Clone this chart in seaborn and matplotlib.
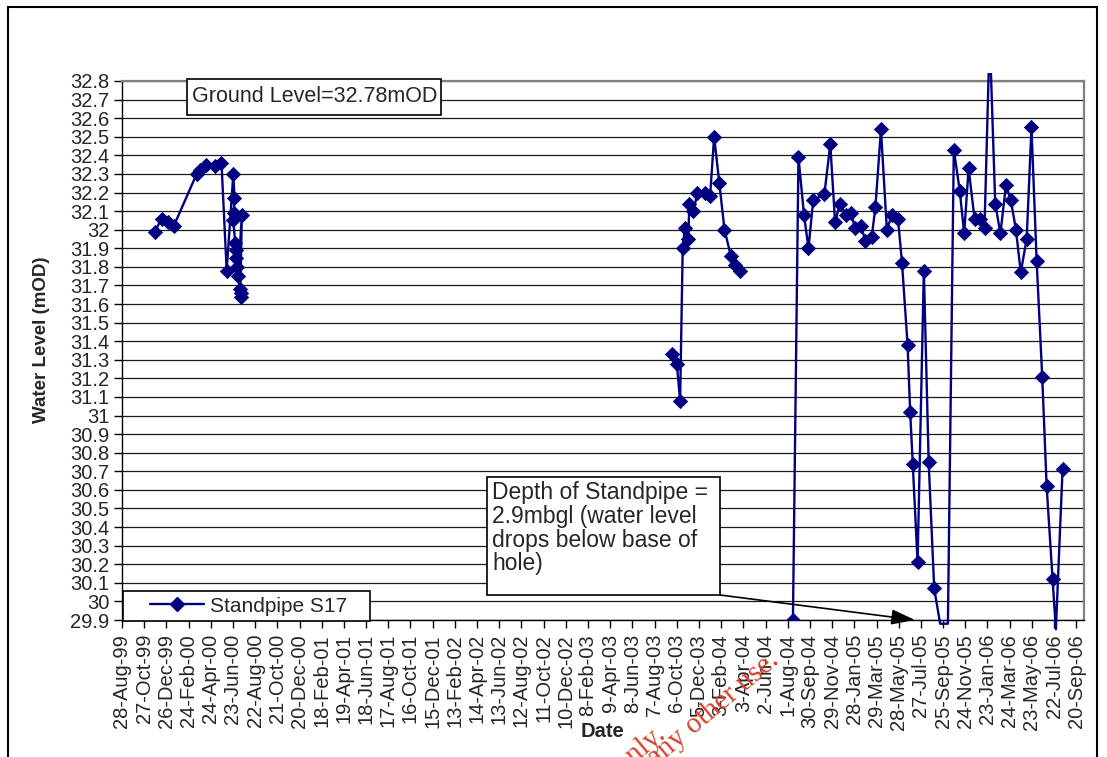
import matplotlib
matplotlib.use("Agg")
import matplotlib.pyplot as plt
from matplotlib.patches import Rectangle
from matplotlib.lines import Line2D
from matplotlib.ticker import FuncFormatter
import numpy as np
import pandas as pd
import seaborn as sns

# Standpipe S17 water levels (mOD), one list pair per monitoring campaign
campaign1_dates = [
    "1999-11-25", "1999-12-13", "1999-12-31", "2000-01-15", "2000-03-17",
    "2000-03-26", "2000-04-11", "2000-05-05", "2000-05-23", "2000-06-06",
    "2000-06-24", "2000-06-27", "2000-06-25", "2000-06-24", "2000-06-29",
    "2000-06-30", "2000-07-01", "2000-07-03", "2000-07-07", "2000-07-17",
    "2000-07-13", "2000-07-14", "2000-07-15",
]
campaign1_levels = [
    31.99, 32.06, 32.04, 32.02, 32.30,
    32.32, 32.35, 32.34, 32.36, 31.78,
    32.30, 32.17, 32.09, 32.05, 31.93,
    31.89, 31.85, 31.80, 31.75, 32.08,
    31.68, 31.66, 31.64,
]

campaign2_dates = [
    "2003-09-24", "2003-10-06", "2003-10-15", "2003-10-22", "2003-10-28",
    "2003-11-06", "2003-11-09", "2003-11-20", "2003-12-01", "2003-12-21",
    "2004-01-04", "2004-01-15", "2004-01-29", "2004-02-12", "2004-02-29",
    "2004-03-11", "2004-03-24",
]
campaign2_levels = [
    31.33, 31.28, 31.08, 31.90, 32.01,
    31.95, 32.14, 32.10, 32.20, 32.20,
    32.18, 32.50, 32.25, 32.00, 31.86,
    31.81, 31.78,
]

campaign3_dates = [
    "2004-08-15", "2004-08-30", "2004-09-14", "2004-09-26", "2004-10-09",
    "2004-11-08", "2004-11-24", "2004-12-07", "2004-12-20", "2005-01-05",
    "2005-01-19", "2005-01-30", "2005-02-15", "2005-02-27", "2005-03-16",
    "2005-03-26", "2005-04-10", "2005-04-26", "2005-05-10", "2005-05-26",
    "2005-06-06", "2005-06-21", "2005-06-28", "2005-07-05", "2005-07-18",
    "2005-08-04", "2005-08-17", "2005-09-01", "2005-09-17", "2005-10-08",
    "2005-10-24", "2005-11-09", "2005-11-21", "2005-12-03", "2005-12-19",
    "2006-01-03", "2006-01-15", "2006-01-29", "2006-02-13", "2006-02-27",
    "2006-03-14", "2006-03-27", "2006-04-10", "2006-04-23", "2006-05-09",
    "2006-05-22", "2006-06-05", "2006-06-20", "2006-07-02", "2006-07-18",
    "2006-07-27", "2006-08-14",
]
campaign3_levels = [
    29.90, 32.39, 32.08, 31.90, 32.16,
    32.19, 32.46, 32.04, 32.14, 32.08,
    32.09, 32.01, 32.02, 31.94, 31.96,
    32.12, 32.54, 32.00, 32.08, 32.06,
    31.82, 31.38, 31.02, 30.74, 30.21,
    31.78, 30.75, 30.07, 29.88, 29.88,
    32.43, 32.21, 31.98, 32.33, 32.06,
    32.06, 32.01, 33.05, 32.14, 31.98,
    32.24, 32.16, 32.00, 31.77, 31.95,
    32.55, 31.83, 31.21, 30.62, 30.12,
    29.85, 30.71,
]

SERIES_LABEL = "Standpipe S17"
GROUND_NOTE = "Ground Level=32.78mOD"
DEPTH_NOTE = ["Depth of Standpipe =", "2.9mbgl (water level",
              "drops below base of", "hole)"]
DEPTH_POINTER = ("2005-07-11", 29.9)

Y_MIN, Y_MAX = 29.9, 32.8
X_START, X_END = "1999-08-28", "2006-10-11"
TICK_STEP_DAYS = 60
N_TICKS = 44

NAVY = "#000080"
W, H = 1107, 757


def px_x(px):
    """Figure-pixel x to axes fraction."""
    return (px - 122) / 962


def px_y(py):
    """Figure-pixel y (from top) to axes fraction."""
    return (620 - py) / 539


frames = []
for i, (d, v) in enumerate([(campaign1_dates, campaign1_levels),
                            (campaign2_dates, campaign2_levels),
                            (campaign3_dates, campaign3_levels)], start=1):
    frames.append(pd.DataFrame({"date": pd.to_datetime(d), "level": v, "campaign": i}))
df = pd.concat(frames, ignore_index=True)

sns.set_style("white")
plt.rcParams["font.family"] = ["Liberation Sans", "DejaVu Sans"]

fig = plt.figure(figsize=(W / 100, H / 100), dpi=100)
ax = fig.add_axes([122 / W, 1 - 620 / H, 962 / W, 539 / H])

# connecting line for every reading (readings outside the axis range still
# pull the line slightly past the plot edge)
sns.lineplot(data=df, x="date", y="level", units="campaign", estimator=None,
             sort=False, color=NAVY, lw=1.7, ax=ax, legend=False, zorder=3)
clip = Rectangle((0, -0.03), 1, 1.045, transform=ax.transAxes)
for ln in ax.lines:
    ln.set_clip_path(clip)

# diamond markers only for readings inside the axis range
shown = df[(df["level"] >= Y_MIN - 1e-9) & (df["level"] <= Y_MAX + 1e-9)]
sns.scatterplot(data=shown, x="date", y="level", marker="D", s=7.2 ** 2,
                color=NAVY, edgecolor=NAVY, linewidth=0.6, ax=ax,
                legend=False, zorder=4)

# axes
ax.set_ylim(Y_MIN, Y_MAX)
ax.set_xlim(pd.Timestamp(X_START), pd.Timestamp(X_END))
ax.set_yticks(np.round(np.arange(Y_MIN, Y_MAX + 0.05, 0.1), 1))
ax.yaxis.set_major_formatter(FuncFormatter(lambda v, p: f"{v:.1f}".rstrip("0").rstrip(".")))
tick_dates = pd.date_range(X_START, periods=N_TICKS, freq=f"{TICK_STEP_DAYS}D")
ax.set_xticks(tick_dates)
ax.set_xticklabels([f"{d.day}-{d:%b-%y}" for d in tick_dates], rotation=90)
ax.tick_params(axis="both", direction="out", length=6, width=1, color="black",
               labelsize=14.5, bottom=True, left=True)
ax.tick_params(axis="x", pad=4)
ax.tick_params(axis="y", pad=3)

ax.yaxis.grid(True, color="#1a1a1a", lw=0.9)
ax.xaxis.grid(False)
ax.set_axisbelow(True)
for side in ("left", "bottom"):
    ax.spines[side].set_color("black")
    ax.spines[side].set_linewidth(1.0)
for side in ("top", "right"):
    ax.spines[side].set_color("#808080")
    ax.spines[side].set_linewidth(1.6)

ax.set_xlabel("Date", fontsize=14.5, fontweight="bold")
ax.xaxis.set_label_coords(0.5, px_y(722))
ax.set_ylabel("Water Level (mOD)", fontsize=13.5, fontweight="bold")
ax.yaxis.label.set_va("center")
ax.yaxis.set_label_coords(px_x(42), px_y(340))

# ground level note
ax.add_patch(Rectangle((px_x(187), px_y(115)), px_x(441) - px_x(187), px_y(79) - px_y(115),
                       transform=ax.transAxes, facecolor="white", edgecolor="black",
                       lw=1.2, clip_on=False, zorder=6))
ax.text(px_x(192), px_y(97), GROUND_NOTE, transform=ax.transAxes, fontsize=15.5,
        va="center", ha="left", zorder=7)

# standpipe depth note with pointer
ax.add_patch(Rectangle((px_x(487), px_y(595)), px_x(720) - px_x(487), px_y(477) - px_y(595),
                       transform=ax.transAxes, facecolor="white", edgecolor="black",
                       lw=1.2, clip_on=False, zorder=6))
for k, line in enumerate(DEPTH_NOTE):
    ax.text(px_x(492), px_y(493 + 23.5 * k), line, transform=ax.transAxes,
            fontsize=16.5, va="center", ha="left", zorder=7)
ax.annotate("", xy=(pd.Timestamp(DEPTH_POINTER[0]), DEPTH_POINTER[1]),
            xytext=(px_x(720), px_y(595)), textcoords="axes fraction",
            arrowprops=dict(arrowstyle="-|>,head_length=1.45,head_width=0.47",
                            color="black", lw=1.2, shrinkA=0, shrinkB=0,
                            mutation_scale=10),
            annotation_clip=False, zorder=7)

# legend
ax.add_patch(Rectangle((px_x(123), px_y(621)), px_x(370) - px_x(123), px_y(591) - px_y(621),
                       transform=ax.transAxes, facecolor="white", edgecolor="black",
                       lw=1.2, clip_on=False, zorder=6))
handle = Line2D([], [], color=NAVY, lw=1.7, marker="D", markersize=7.2)
leg = ax.legend([handle], [SERIES_LABEL], loc="center left",
                bbox_to_anchor=(px_x(150), px_y(606)), frameon=False,
                borderaxespad=0, borderpad=0, handlelength=2.6,
                handletextpad=0.3, fontsize=15)
leg.set_zorder(8)

# outer chart border
fig.patches.append(Rectangle((8 / W, -0.1), (1097 - 8) / W, 1 - 7 / H + 0.1,
                             transform=fig.transFigure, fill=False,
                             edgecolor="black", lw=1.5))

# document watermark
for txt, (ex, ey) in [("For inspection purposes only.", (667, 737)),
                      ("Consent of copyright owner required for any other use.", (780, 662))]:
    fig.text(ex / W, 1 - ey / H, txt, rotation=40, rotation_mode="anchor",
             ha="right", va="baseline", color="#d4432b", fontsize=21,
             family=["Liberation Serif", "DejaVu Serif"])

fig.savefig("out.png", dpi=100)
